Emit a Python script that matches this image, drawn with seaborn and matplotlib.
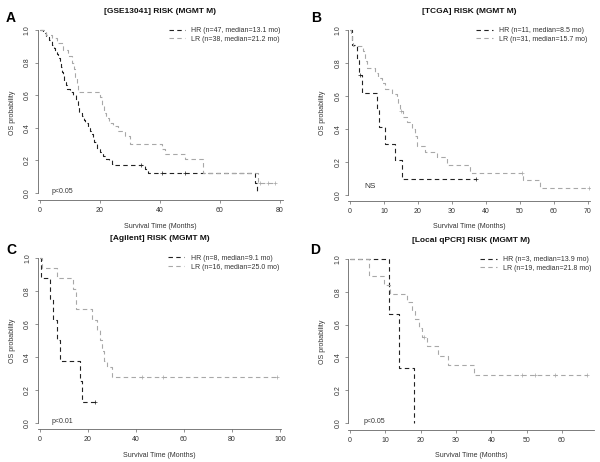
import numpy as np
import seaborn as sns
import matplotlib.pyplot as plt

# ---- panel A: GSE13041 ----
a_hr_t = [0, 1, 2, 3, 4, 4.5, 5, 5.5, 6, 6.5, 7, 7.3, 7.6, 8, 8.5, 9, 10, 11, 12, 12.5,
          13.1, 14, 14.5, 15, 16, 16.5, 17, 17.5, 18, 19, 20, 21, 22, 23, 24, 25, 35, 36, 71.7, 72.3]
a_hr_s = [1.0, 0.98, 0.96, 0.94, 0.91, 0.89, 0.87, 0.85, 0.83, 0.81, 0.77, 0.74, 0.72, 0.68, 0.66,
          0.64, 0.62, 0.60, 0.57, 0.53, 0.49, 0.47, 0.45, 0.43, 0.40, 0.38, 0.36, 0.33, 0.31, 0.27,
          0.25, 0.23, 0.21, 0.20, 0.18, 0.17, 0.15, 0.12, 0.06, 0.0]
a_hr_c = [33.5, 40.6, 48.3]
a_lr_t = [0, 2, 4, 5.6, 7.8, 9.4, 10.6, 11.2, 11.7, 12.3, 12.8, 20, 20.6, 21.2, 22, 23, 24.5,
          26.1, 28.3, 30, 40.5, 41.7, 48.3, 54.4, 72.8, 78.3]
a_lr_s = [1.0, 0.97, 0.95, 0.92, 0.88, 0.84, 0.80, 0.76, 0.71, 0.66, 0.62, 0.59, 0.54, 0.49, 0.46,
          0.43, 0.41, 0.38, 0.35, 0.30, 0.27, 0.24, 0.21, 0.12, 0.06, 0.06]
a_lr_c = [73.3, 76.1, 78.3]

# ---- panel B: TCGA ----
b_hr_t = [0, 0.5, 2.0, 2.5, 3.4, 7.8, 8.5, 10.3, 13.2, 15.2, 37.0]
b_hr_s = [1.0, 0.91, 0.82, 0.73, 0.62, 0.52, 0.41, 0.31, 0.21, 0.10, 0.10]
b_hr_c = [3.0, 37.0]
b_lr_t = [0, 0.3, 0.6, 1.0, 3.9, 4.4, 5.0, 7.4, 8.3, 9.3, 10.3, 12.3, 13.7, 14.2, 14.7, 15.7,
          16.7, 18.1, 19.1, 19.6, 22.0, 25.5, 28.4, 35.3, 51.0, 56.0, 70.2]
b_lr_s = [1.0, 0.97, 0.94, 0.90, 0.87, 0.81, 0.77, 0.74, 0.71, 0.68, 0.645, 0.61, 0.58, 0.55,
          0.51, 0.47, 0.44, 0.40, 0.36, 0.30, 0.26, 0.23, 0.18, 0.135, 0.09, 0.045, 0.045]
b_lr_c = [15.0, 50.5, 70.2]

# ---- panel C: Agilent ----
c_hr_t = [0, 0.3, 4.2, 5.6, 7.0, 8.5, 16.5, 17.4, 23.0]
c_hr_s = [1.0, 0.875, 0.75, 0.625, 0.5, 0.375, 0.25, 0.125, 0.125]
c_hr_c = [23.0]
c_lr_t = [0, 0.8, 6.9, 13.9, 15.0, 21.8, 23.6, 25.0, 25.7, 26.6, 28.0, 30.0, 98.7]
c_lr_s = [1.0, 0.9375, 0.875, 0.8125, 0.6875, 0.625, 0.5625, 0.5, 0.4375, 0.375, 0.34, 0.28, 0.28]
c_lr_c = [42.4, 51.4, 98.7]

# ---- panel D: local qPCR ----
d_hr_t = [0, 11.1, 13.9, 18.2]
d_hr_s = [1.0, 0.667, 0.333, 0.0]
d_hr_c = []
d_lr_t = [0, 5.4, 9.6, 11.3, 16.1, 17.5, 18.4, 19.4, 20.3, 21.8, 25.0, 27.8, 35.0, 67.0]
d_lr_s = [1.0, 0.895, 0.842, 0.789, 0.737, 0.684, 0.632, 0.579, 0.526, 0.468, 0.41, 0.351, 0.292, 0.292]
d_lr_c = [21.0, 48.6, 52.4, 58.1, 67.0]

titles = ["[GSE13041] RISK (MGMT M)", "[TCGA] RISK (MGMT M)",
          "[Agilent] RISK (MGMT M)", "[Local qPCR] RISK (MGMT M)"]
letters = ["A", "B", "C", "D"]
hr_labels = ["HR (n=47, median=13.1 mo)", "HR (n=11, median=8.5 mo)",
             "HR (n=8, median=9.1 mo)", "HR (n=3, median=13.9 mo)"]
lr_labels = ["LR (n=38, median=21.2 mo)", "LR (n=31, median=15.7 mo)",
             "LR (n=16, median=25.0 mo)", "LR (n=19, median=21.8 mo)"]
pvals = ["p<0.05", "NS", "p<0.01", "p<0.05"]
xticks = [np.arange(0, 81, 20), np.arange(0, 71, 10), np.arange(0, 101, 20), np.arange(0, 61, 10)]

HR_COL = "#222222"
LR_COL = "#a8a8a8"
DASH = (0, (4, 3))
TXT = "#333333"

sns.set_theme(style="white")
plt.rcParams['font.family'] = ['Liberation Sans', 'DejaVu Sans']
plt.rcParams['text.color'] = TXT

fig = plt.figure(figsize=(6, 4.62), dpi=100)


def surv_at(t, s, c):
    idx = np.searchsorted(t, c, side='right') - 1
    return np.asarray(s)[idx]


def make_axes(x0, ppm, xmin, xmax, y0, y1, ybot):
    # pixel layout of the R-style panel -> figure fractions
    left = x0 + xmin * ppm
    right = x0 + xmax * ppm
    ppu = y0 - y1
    bot = y0 - ybot * ppu
    top = y0 - 1.03 * ppu
    ax = fig.add_axes([left / 600, 1 - bot / 462, (right - left) / 600, (bot - top) / 462])
    ax.set_xlim(xmin, xmax)
    ax.set_ylim(ybot, 1.03)
    return ax


def draw_panel(ax, i, hr_t, hr_s, hr_c, lr_t, lr_s, lr_c, p_xy, letter_xy, p_size=5):
    sns.lineplot(x=hr_t, y=hr_s, drawstyle='steps-post', color=HR_COL, linestyle=DASH,
                 linewidth=0.8, estimator=None, sort=False, label=hr_labels[i], ax=ax)
    sns.lineplot(x=lr_t, y=lr_s, drawstyle='steps-post', color=LR_COL, linestyle=DASH,
                 linewidth=0.8, estimator=None, sort=False, label=lr_labels[i], ax=ax)
    if len(hr_c):
        sns.scatterplot(x=hr_c, y=surv_at(hr_t, hr_s, hr_c), marker='+', s=10, color=HR_COL,
                        linewidth=0.5, legend=False, ax=ax)
    if len(lr_c):
        sns.scatterplot(x=lr_c, y=surv_at(lr_t, lr_s, lr_c), marker='+', s=10, color=LR_COL,
                        linewidth=0.5, legend=False, ax=ax)

    ax.legend(loc='upper right', frameon=False, fontsize=5, handlelength=2.4,
              handletextpad=0.9, labelspacing=0.25, borderaxespad=0.1, borderpad=0.2,
              labelcolor=TXT)
    ax.text(p_xy[0], p_xy[1], pvals[i], fontsize=p_size, va='center', ha='left')

    ax.set_xticks(xticks[i])
    ax.set_yticks([0.0, 0.2, 0.4, 0.6, 0.8, 1.0])
    ax.set_yticklabels(["0.0", "0.2", "0.4", "0.6", "0.8", "1.0"], rotation=90, va='center')
    ax.tick_params(axis='both', direction='out', length=2.5, width=0.5, color='#666666',
                   labelsize=5, pad=2.5, left=True, bottom=True, labelcolor=TXT)
    ax.spines['top'].set_visible(False)
    ax.spines['right'].set_visible(False)
    ax.spines['left'].set_bounds(0, 1)
    for sp in ['left', 'bottom']:
        ax.spines[sp].set_linewidth(0.6)
        ax.spines[sp].set_color('#666666')
    ax.set_xlabel("Survival Time (Months)", fontsize=5, labelpad=6, color=TXT)
    ax.set_ylabel("OS probability", fontsize=5, labelpad=6, color=TXT)
    ax.set_title(titles[i], fontsize=6, fontweight='bold', pad=9, color='#111111')
    fig.text(letter_xy[0] / 600, 1 - letter_xy[1] / 462, letters[i], fontsize=10,
             fontweight='bold', ha='center', va='center', color='black')


ax_a = make_axes(40, 3.0, -0.7, 81, 193, 30, -0.045)
draw_panel(ax_a, 0, a_hr_t, a_hr_s, a_hr_c, a_lr_t, a_lr_s, a_lr_c, (4, 0.01), (11, 18))

ax_b = make_axes(350, 3.4, -0.5, 70.5, 195, 30, -0.035)
draw_panel(ax_b, 1, b_hr_t, b_hr_s, b_hr_c, b_lr_t, b_lr_s, b_lr_c, (4.3, 0.05), (316, 18), p_size=6)

ax_c = make_axes(40, 2.4, -0.8, 100.5, 422.7, 257.7, -0.04)
draw_panel(ax_c, 2, c_hr_t, c_hr_s, c_hr_c, c_lr_t, c_lr_s, c_lr_c, (5, 0.01), (11, 250))

ax_d = make_axes(350, 3.533, -0.5, 69, 423, 259, -0.04)
draw_panel(ax_d, 3, d_hr_t, d_hr_s, d_hr_c, d_lr_t, d_lr_s, d_lr_c, (3.7, 0.01), (315, 250))

fig.savefig("out.png", dpi=100)
